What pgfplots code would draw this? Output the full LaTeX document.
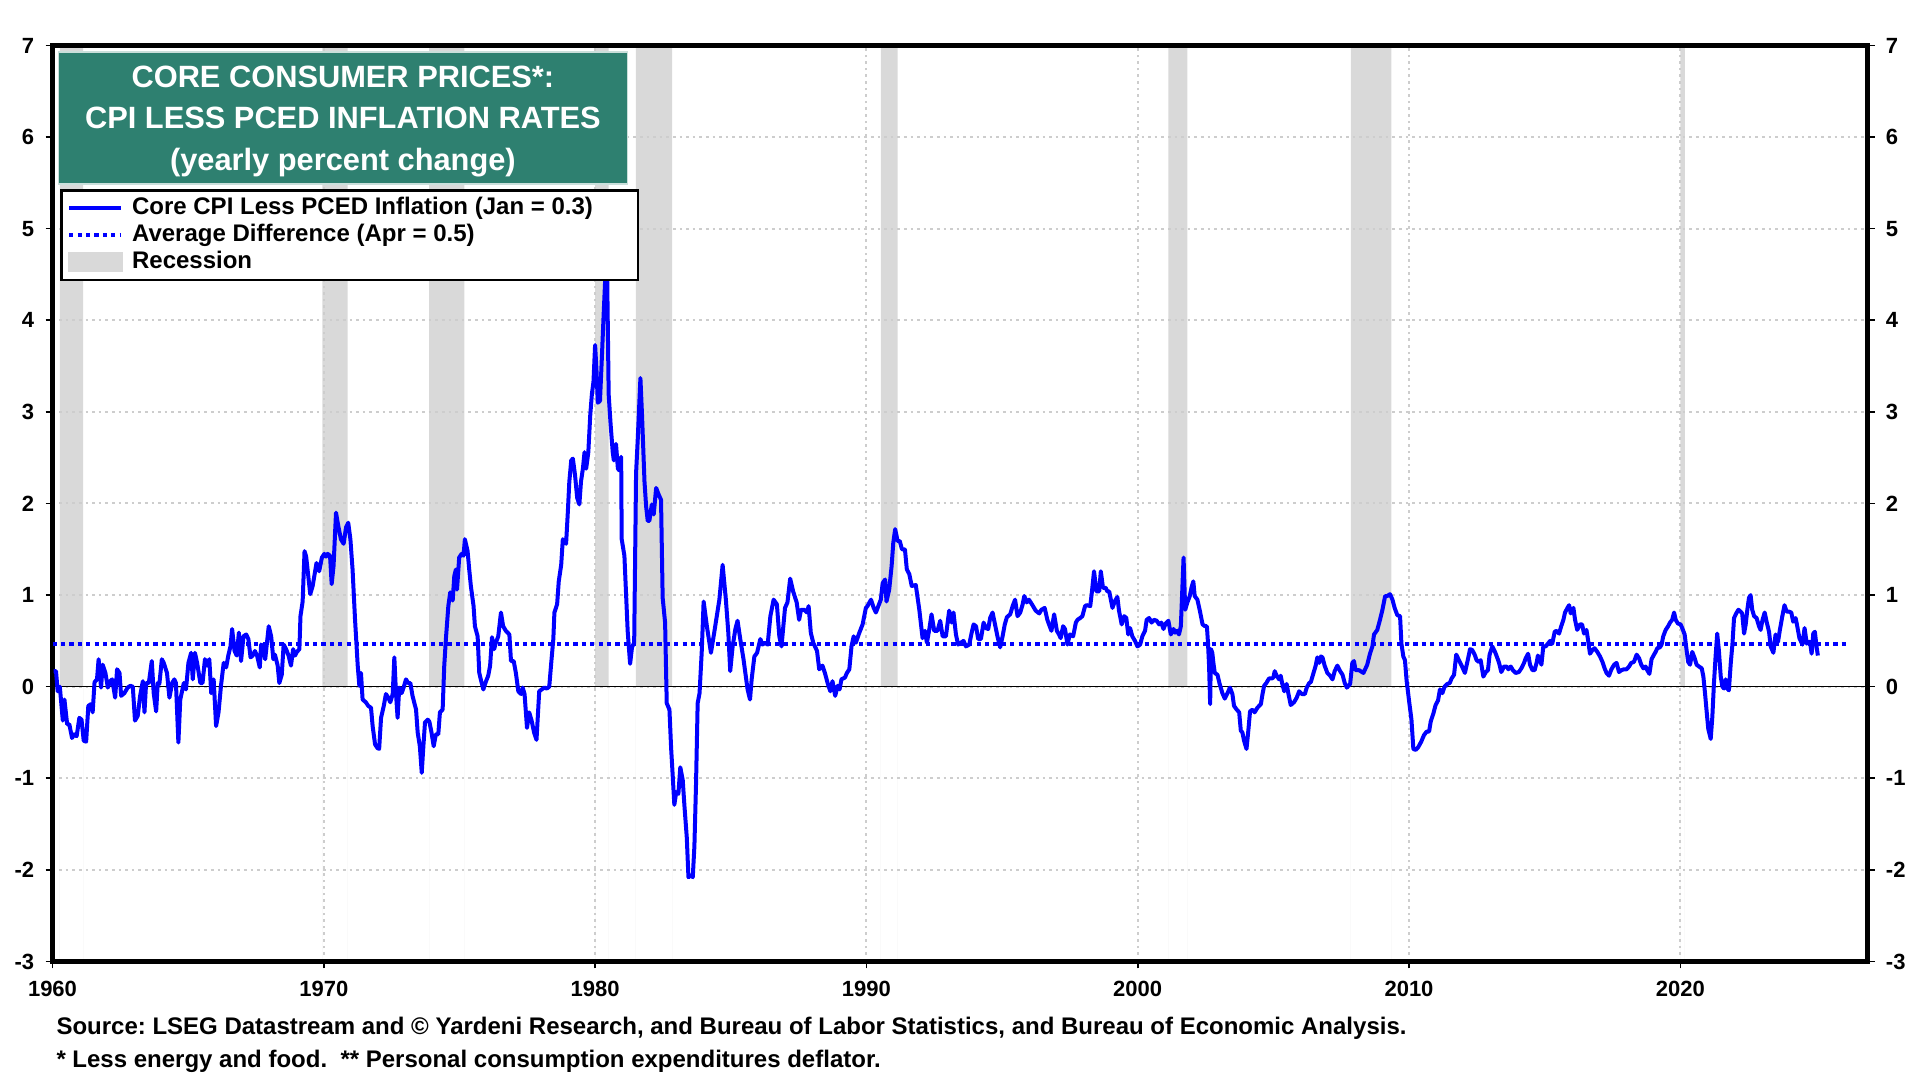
\documentclass[border=0pt]{standalone}
\usepackage{fontspec}
\setmainfont{Liberation Sans}
\usepackage{pgfplots}
\pgfplotsset{compat=1.18}
\definecolor{titleteal}{RGB}{46,128,112}
\definecolor{recgray}{RGB}{217,217,217}
\definecolor{gridgray}{RGB}{205,205,205}
\definecolor{lineblue}{RGB}{0,0,255}
\begin{document}
\begin{tikzpicture}
\begin{axis}[
  name=ax,
  set layers,
  scale only axis,
  width=907.5pt, height=458pt,
  xmin=1960, xmax=2026.9, ymin=-3, ymax=7,
  xtick={1960,1970,1980,1990,2000,2010,2020},
  xticklabels={1960,1970,1980,1990,2000,2010,2020},
  ytick={-3,-2,-1,0,1,2,3,4,5,6,7},
  yticklabels={-3,-2,-1,0,1,2,3,4,5,6,7},
  xtick pos=bottom, ytick pos=left,
  tick align=outside,
  major tick length=3.5pt,
  tick style={black, line width=0.8pt},
  axis line style={black, line width=2.2pt},
  grid=major,
  major grid style={gridgray, line width=1pt, dash pattern=on 1.3pt off 2pt},
  ticklabel style={font=\bfseries\fontsize{11}{13}\selectfont, inner sep=0pt},
  yticklabel style={anchor=east, xshift=-5.5pt},
  xticklabel style={anchor=base, yshift=-14pt},
  legend style={at={(0,1)}, anchor=north west, xshift=3.75pt, yshift=-71.75pt,
    draw=black, line width=1.3pt, fill=white,
    inner xsep=3pt, inner ysep=2pt, row sep=0pt,
    font=\bfseries\fontsize{12}{13.6}\selectfont,
    nodes={inner sep=0pt, text height=10pt, text depth=3.6pt},
    /tikz/every odd column/.append style={column sep=4.4pt}},
  legend cell align=left,
]
% recession bands
\addplot[on layer=axis background, fill=recgray, draw=none, forget plot] coordinates {(1960.27,-3) (1960.27,7) (1961.13,7) (1961.13,-3)} \closedcycle;
\addplot[on layer=axis background, fill=recgray, draw=none, forget plot] coordinates {(1969.95,-3) (1969.95,7) (1970.88,7) (1970.88,-3)} \closedcycle;
\addplot[on layer=axis background, fill=recgray, draw=none, forget plot] coordinates {(1973.88,-3) (1973.88,7) (1975.18,7) (1975.18,-3)} \closedcycle;
\addplot[on layer=axis background, fill=recgray, draw=none, forget plot] coordinates {(1980.0,-3) (1980.0,7) (1980.5,7) (1980.5,-3)} \closedcycle;
\addplot[on layer=axis background, fill=recgray, draw=none, forget plot] coordinates {(1981.5,-3) (1981.5,7) (1982.84,7) (1982.84,-3)} \closedcycle;
\addplot[on layer=axis background, fill=recgray, draw=none, forget plot] coordinates {(1990.53,-3) (1990.53,7) (1991.15,7) (1991.15,-3)} \closedcycle;
\addplot[on layer=axis background, fill=recgray, draw=none, forget plot] coordinates {(2001.13,-3) (2001.13,7) (2001.83,7) (2001.83,-3)} \closedcycle;
\addplot[on layer=axis background, fill=recgray, draw=none, forget plot] coordinates {(2007.86,-3) (2007.86,7) (2009.35,7) (2009.35,-3)} \closedcycle;
\addplot[on layer=axis background, fill=recgray, draw=none, forget plot] coordinates {(2020.0,-3) (2020.0,7) (2020.17,7) (2020.17,-3)} \closedcycle;
% zero line
\addplot[black, line width=0.6pt, forget plot] coordinates {(1960,0) (2026.9,0)};
% average difference
\addplot[lineblue, line width=1.9pt, dash pattern=on 2.1pt off 2.1pt, forget plot] coordinates {(1960,0.47) (2026.15,0.47)};
% core CPI less PCED
\addplot[lineblue, line width=2pt, line join=round, forget plot] table {
1960.04 0.17
1960.13 0.17
1960.19 -0.05
1960.27 0.0
1960.38 -0.37
1960.44 -0.14
1960.54 -0.41
1960.62 -0.41
1960.72 -0.56
1960.80 -0.52
1960.89 -0.54
1960.99 -0.34
1961.07 -0.36
1961.15 -0.59
1961.24 -0.60
1961.32 -0.21
1961.42 -0.19
1961.48 -0.28
1961.55 0.05
1961.64 0.08
1961.70 0.30
1961.79 -0.01
1961.85 0.24
1961.95 0.15
1962.04 -0.01
1962.13 0.06
1962.20 0.08
1962.31 -0.12
1962.38 0.19
1962.47 0.15
1962.53 -0.10
1962.65 -0.07
1962.77 -0.01
1962.87 0.01
1962.96 0.00
1963.04 -0.37
1963.14 -0.32
1963.23 -0.10
1963.33 0.06
1963.39 -0.28
1963.45 0.04
1963.55 0.04
1963.66 0.28
1963.73 -0.07
1963.82 -0.27
1963.88 0.04
1963.94 0.03
1964.03 0.30
1964.10 0.26
1964.22 0.15
1964.31 -0.12
1964.41 0.04
1964.49 0.08
1964.55 0.04
1964.64 -0.61
1964.71 -0.14
1964.84 0.04
1964.92 -0.03
1965.01 0.26
1965.11 0.37
1965.17 0.08
1965.25 0.37
1965.33 0.26
1965.45 0.04
1965.53 0.04
1965.62 0.30
1965.70 0.23
1965.78 0.30
1965.85 -0.07
1965.94 0.08
1966.03 -0.43
1966.12 -0.28
1966.21 0.01
1966.31 0.26
1966.40 0.21
1966.48 0.34
1966.56 0.44
1966.62 0.63
1966.71 0.39
1966.79 0.34
1966.87 0.59
1966.95 0.28
1967.04 0.55
1967.14 0.57
1967.22 0.52
1967.30 0.32
1967.38 0.34
1967.46 0.39
1967.54 0.34
1967.64 0.21
1967.69 0.46
1967.75 0.44
1967.84 0.30
1967.97 0.66
1968.06 0.55
1968.14 0.30
1968.20 0.35
1968.30 0.23
1968.36 0.04
1968.45 0.13
1968.52 0.46
1968.61 0.41
1968.70 0.34
1968.79 0.23
1968.87 0.41
1968.94 0.34
1969.01 0.38
1969.10 0.41
1969.14 0.77
1969.22 0.93
1969.29 1.48
1969.35 1.42
1969.50 1.01
1969.59 1.10
1969.73 1.35
1969.83 1.26
1969.93 1.41
1970.02 1.45
1970.08 1.42
1970.14 1.45
1970.23 1.43
1970.29 1.12
1970.36 1.32
1970.45 1.90
1970.53 1.76
1970.63 1.61
1970.73 1.56
1970.82 1.74
1970.90 1.79
1970.98 1.61
1971.06 1.28
1971.15 0.74
1971.25 0.23
1971.31 0.01
1971.37 0.15
1971.43 -0.14
1971.55 -0.17
1971.64 -0.21
1971.74 -0.23
1971.80 -0.43
1971.89 -0.63
1971.98 -0.67
1972.04 -0.68
1972.11 -0.34
1972.21 -0.21
1972.29 -0.08
1972.38 -0.12
1972.45 -0.17
1972.54 -0.08
1972.60 0.32
1972.66 -0.07
1972.72 -0.34
1972.78 -0.01
1972.87 -0.07
1972.94 -0.01
1973.03 0.08
1973.11 0.04
1973.19 0.04
1973.27 -0.10
1973.40 -0.25
1973.46 -0.50
1973.54 -0.65
1973.61 -0.94
1973.67 -0.65
1973.73 -0.39
1973.83 -0.36
1973.89 -0.38
1973.97 -0.50
1974.05 -0.65
1974.13 -0.52
1974.22 -0.52
1974.28 -0.28
1974.38 -0.25
1974.44 0.23
1974.50 0.52
1974.59 0.88
1974.66 1.03
1974.75 0.94
1974.81 1.21
1974.87 1.28
1974.91 1.06
1974.99 1.41
1975.08 1.45
1975.15 1.43
1975.20 1.61
1975.30 1.48
1975.36 1.28
1975.42 1.10
1975.52 0.88
1975.57 0.66
1975.67 0.55
1975.73 0.15
1975.82 0.04
1975.88 -0.03
1975.98 0.06
1976.06 0.12
1976.13 0.23
1976.20 0.54
1976.28 0.41
1976.34 0.48
1976.43 0.55
1976.53 0.81
1976.61 0.66
1976.71 0.61
1976.84 0.57
1976.90 0.28
1977.00 0.28
1977.08 0.15
1977.17 -0.05
1977.27 -0.08
1977.33 -0.01
1977.40 -0.08
1977.49 -0.45
1977.57 -0.28
1977.66 -0.37
1977.75 -0.50
1977.84 -0.58
1977.94 -0.05
1978.03 -0.03
1978.13 -0.01
1978.22 -0.02
1978.31 0.00
1978.38 0.25
1978.46 0.52
1978.50 0.81
1978.60 0.90
1978.66 1.15
1978.75 1.33
1978.81 1.61
1978.93 1.56
1978.99 1.88
1979.05 2.24
1979.12 2.47
1979.18 2.49
1979.26 2.31
1979.34 2.06
1979.42 1.99
1979.48 2.24
1979.55 2.38
1979.61 2.56
1979.67 2.38
1979.75 2.56
1979.82 2.96
1979.88 3.19
1979.94 3.33
1980.00 3.73
1980.05 3.46
1980.10 3.10
1980.18 3.12
1980.25 3.60
1980.32 4.10
1980.38 4.50
1980.44 4.60
1980.50 3.19
1980.57 2.87
1980.65 2.56
1980.69 2.47
1980.77 2.65
1980.84 2.38
1980.90 2.36
1980.96 2.51
1980.98 1.61
1981.08 1.43
1981.14 1.02
1981.20 0.61
1981.29 0.25
1981.36 0.43
1981.44 0.48
1981.51 2.33
1981.57 2.69
1981.67 3.37
1981.73 2.96
1981.82 2.24
1981.88 1.97
1981.94 1.81
1982.00 1.81
1982.09 1.99
1982.16 1.88
1982.25 2.17
1982.34 2.10
1982.43 2.04
1982.49 0.97
1982.58 0.70
1982.64 -0.18
1982.74 -0.25
1982.80 -0.66
1982.86 -0.97
1982.92 -1.29
1982.99 -1.15
1983.07 -1.17
1983.14 -0.88
1983.23 -1.02
1983.29 -1.29
1983.38 -1.65
1983.44 -2.08
1983.54 -2.06
1983.60 -2.08
1983.66 -1.74
1983.72 -1.06
1983.78 -0.18
1983.85 -0.07
1983.93 0.38
1984.00 0.93
1984.12 0.66
1984.27 0.37
1984.39 0.59
1984.58 0.95
1984.70 1.33
1984.82 0.95
1984.91 0.59
1984.98 0.17
1985.07 0.44
1985.17 0.63
1985.25 0.72
1985.35 0.52
1985.47 0.30
1985.62 -0.03
1985.71 -0.14
1985.77 0.08
1985.87 0.33
1985.97 0.37
1986.09 0.52
1986.17 0.46
1986.26 0.48
1986.36 0.46
1986.46 0.77
1986.58 0.95
1986.70 0.90
1986.79 0.55
1986.87 0.44
1987.00 0.86
1987.09 0.92
1987.19 1.18
1987.30 1.04
1987.43 0.92
1987.52 0.73
1987.59 0.84
1987.71 0.84
1987.81 0.81
1987.87 0.88
1987.95 0.59
1988.04 0.48
1988.18 0.39
1988.26 0.19
1988.38 0.23
1988.47 0.15
1988.57 0.04
1988.67 -0.05
1988.75 0.06
1988.85 -0.10
1988.94 0.01
1989.01 -0.03
1989.08 0.08
1989.21 0.10
1989.28 0.15
1989.37 0.19
1989.45 0.44
1989.53 0.55
1989.61 0.48
1989.74 0.59
1989.86 0.68
1989.98 0.86
1990.04 0.88
1990.17 0.95
1990.27 0.86
1990.35 0.81
1990.44 0.88
1990.53 0.95
1990.60 1.13
1990.69 1.17
1990.74 0.93
1990.84 1.06
1990.93 1.32
1990.99 1.57
1991.06 1.72
1991.15 1.59
1991.23 1.59
1991.31 1.50
1991.42 1.50
1991.49 1.28
1991.58 1.23
1991.67 1.10
1991.82 1.11
1991.95 0.84
1992.07 0.53
1992.16 0.61
1992.23 0.48
1992.32 0.63
1992.40 0.79
1992.50 0.61
1992.62 0.61
1992.72 0.72
1992.81 0.55
1992.93 0.55
1993.05 0.83
1993.14 0.70
1993.21 0.81
1993.30 0.57
1993.38 0.46
1993.48 0.48
1993.58 0.50
1993.67 0.44
1993.79 0.46
1993.88 0.59
1993.95 0.68
1994.04 0.66
1994.12 0.52
1994.22 0.52
1994.32 0.70
1994.40 0.64
1994.49 0.63
1994.56 0.75
1994.65 0.81
1994.74 0.68
1994.83 0.55
1994.93 0.43
1995.02 0.55
1995.10 0.68
1995.18 0.76
1995.30 0.79
1995.39 0.88
1995.48 0.95
1995.57 0.77
1995.67 0.81
1995.76 0.90
1995.82 0.99
1995.91 0.92
1995.99 0.95
1996.10 0.90
1996.24 0.83
1996.37 0.80
1996.45 0.84
1996.57 0.86
1996.67 0.73
1996.73 0.68
1996.82 0.61
1996.92 0.79
1997.02 0.61
1997.10 0.57
1997.16 0.53
1997.25 0.66
1997.32 0.63
1997.41 0.46
1997.50 0.57
1997.62 0.55
1997.72 0.70
1997.78 0.73
1997.88 0.75
1997.96 0.77
1998.06 0.88
1998.12 0.89
1998.25 0.88
1998.31 1.03
1998.39 1.26
1998.48 1.04
1998.58 1.04
1998.64 1.26
1998.72 1.08
1998.82 1.08
1998.88 1.04
1998.95 1.04
1999.01 0.95
1999.07 0.86
1999.15 0.93
1999.25 0.98
1999.31 0.83
1999.41 0.68
1999.50 0.77
1999.58 0.75
1999.65 0.57
1999.72 0.64
1999.80 0.55
1999.90 0.50
1999.99 0.44
2000.09 0.46
2000.17 0.55
2000.27 0.61
2000.33 0.73
2000.42 0.75
2000.51 0.70
2000.60 0.73
2000.70 0.72
2000.79 0.68
2000.87 0.70
2000.95 0.63
2001.03 0.69
2001.13 0.72
2001.22 0.57
2001.32 0.63
2001.38 0.59
2001.46 0.61
2001.52 0.57
2001.59 0.66
2001.69 1.41
2001.75 0.84
2001.83 0.92
2001.92 0.99
2001.98 1.08
2002.05 1.15
2002.10 0.99
2002.20 0.95
2002.29 0.83
2002.39 0.68
2002.48 0.66
2002.55 0.66
2002.59 0.48
2002.63 0.23
2002.67 -0.19
2002.70 0.41
2002.75 0.37
2002.79 0.26
2002.84 0.15
2002.94 0.13
2003.02 0.03
2003.12 -0.07
2003.21 -0.13
2003.31 -0.07
2003.40 -0.01
2003.49 -0.08
2003.55 -0.21
2003.65 -0.25
2003.74 -0.28
2003.80 -0.48
2003.86 -0.50
2003.92 -0.59
2004.01 -0.68
2004.08 -0.47
2004.14 -0.27
2004.23 -0.25
2004.31 -0.28
2004.41 -0.23
2004.54 -0.19
2004.60 -0.08
2004.66 0.01
2004.74 0.04
2004.84 0.09
2004.94 0.09
2005.00 0.10
2005.05 0.17
2005.12 0.12
2005.21 0.08
2005.27 0.12
2005.33 0.03
2005.40 -0.05
2005.49 0.03
2005.55 -0.07
2005.64 -0.20
2005.76 -0.17
2005.86 -0.12
2005.95 -0.05
2006.05 -0.08
2006.16 -0.08
2006.23 -0.01
2006.32 0.04
2006.38 0.05
2006.48 0.15
2006.56 0.23
2006.62 0.32
2006.69 0.26
2006.75 0.33
2006.81 0.32
2006.89 0.23
2006.99 0.15
2007.09 0.12
2007.18 0.08
2007.26 0.17
2007.36 0.23
2007.46 0.17
2007.55 0.13
2007.63 0.04
2007.71 -0.01
2007.83 0.03
2007.91 0.26
2007.97 0.28
2008.03 0.18
2008.16 0.18
2008.32 0.15
2008.46 0.24
2008.56 0.36
2008.65 0.44
2008.71 0.57
2008.83 0.62
2008.93 0.73
2009.02 0.84
2009.12 0.99
2009.20 0.99
2009.30 1.01
2009.39 0.95
2009.47 0.86
2009.57 0.78
2009.67 0.77
2009.72 0.47
2009.79 0.33
2009.85 0.29
2009.91 0.07
2010.00 -0.15
2010.09 -0.36
2010.16 -0.68
2010.25 -0.69
2010.34 -0.66
2010.45 -0.60
2010.55 -0.53
2010.65 -0.49
2010.74 -0.49
2010.80 -0.38
2010.90 -0.29
2010.98 -0.20
2011.07 -0.15
2011.14 -0.03
2011.23 -0.07
2011.31 0.00
2011.41 0.03
2011.50 0.04
2011.57 0.09
2011.66 0.13
2011.74 0.35
2011.84 0.29
2011.94 0.23
2012.06 0.15
2012.15 0.27
2012.25 0.41
2012.33 0.40
2012.42 0.35
2012.49 0.29
2012.58 0.27
2012.64 0.29
2012.74 0.11
2012.83 0.16
2012.91 0.18
2012.97 0.35
2013.07 0.44
2013.17 0.38
2013.26 0.31
2013.32 0.26
2013.40 0.16
2013.50 0.22
2013.60 0.22
2013.66 0.19
2013.75 0.22
2013.83 0.18
2013.93 0.15
2014.05 0.16
2014.14 0.20
2014.24 0.26
2014.30 0.31
2014.39 0.36
2014.46 0.24
2014.55 0.18
2014.63 0.18
2014.71 0.27
2014.75 0.34
2014.83 0.29
2014.88 0.24
2014.95 0.44
2015.04 0.44
2015.12 0.47
2015.20 0.50
2015.28 0.47
2015.37 0.60
2015.44 0.61
2015.53 0.58
2015.61 0.66
2015.69 0.73
2015.75 0.81
2015.84 0.86
2015.90 0.89
2015.96 0.80
2016.06 0.86
2016.12 0.73
2016.20 0.62
2016.30 0.68
2016.38 0.68
2016.45 0.58
2016.54 0.62
2016.60 0.51
2016.67 0.36
2016.76 0.40
2016.84 0.42
2016.94 0.38
2017.04 0.33
2017.13 0.27
2017.21 0.20
2017.28 0.15
2017.37 0.12
2017.46 0.19
2017.56 0.24
2017.65 0.26
2017.74 0.16
2017.83 0.18
2017.92 0.19
2018.02 0.19
2018.11 0.22
2018.19 0.26
2018.29 0.27
2018.39 0.35
2018.48 0.31
2018.56 0.24
2018.64 0.20
2018.72 0.22
2018.78 0.18
2018.86 0.14
2018.94 0.30
2019.03 0.35
2019.09 0.38
2019.15 0.42
2019.25 0.43
2019.31 0.46
2019.37 0.55
2019.46 0.62
2019.55 0.66
2019.62 0.70
2019.70 0.73
2019.77 0.81
2019.83 0.73
2019.91 0.69
2020.01 0.68
2020.07 0.64
2020.16 0.57
2020.23 0.40
2020.29 0.27
2020.36 0.24
2020.44 0.38
2020.53 0.31
2020.60 0.24
2020.69 0.22
2020.79 0.20
2020.85 0.11
2020.91 -0.07
2020.97 -0.27
2021.03 -0.46
2021.12 -0.57
2021.18 -0.33
2021.24 0.04
2021.30 0.33
2021.36 0.58
2021.42 0.40
2021.49 0.11
2021.55 0.00
2021.61 -0.02
2021.67 0.08
2021.73 -0.02
2021.79 -0.04
2021.86 0.26
2021.92 0.46
2021.98 0.75
2022.06 0.80
2022.14 0.84
2022.22 0.82
2022.28 0.80
2022.35 0.58
2022.41 0.68
2022.47 0.84
2022.53 0.97
2022.59 1.00
2022.65 0.84
2022.72 0.77
2022.81 0.75
2022.90 0.66
2022.96 0.62
2023.03 0.73
2023.11 0.81
2023.18 0.71
2023.27 0.60
2023.33 0.44
2023.43 0.37
2023.51 0.57
2023.60 0.49
2023.67 0.62
2023.76 0.77
2023.84 0.89
2023.92 0.82
2024.00 0.82
2024.09 0.81
2024.16 0.71
2024.25 0.75
2024.31 0.66
2024.39 0.53
2024.50 0.46
2024.58 0.64
2024.66 0.47
2024.72 0.49
2024.78 0.49
2024.84 0.36
2024.90 0.58
2024.96 0.60
2025.02 0.44
2025.07 0.34
};
% legend
\addlegendimage{legend image code/.code={\draw[lineblue, line width=2pt] (0pt,0pt) -- (26pt,0pt);}}
\addlegendentry{\makebox[250pt][l]{Core CPI Less PCED Inflation (Jan = 0.3)}}
\addlegendimage{legend image code/.code={\draw[lineblue, line width=1.9pt, dash pattern=on 2.1pt off 2.1pt] (0pt,0pt) -- (26pt,0pt);}}
\addlegendentry{Average Difference (Apr = 0.5)}
\addlegendimage{legend image code/.code={\fill[recgray] (0pt,-4.4pt) rectangle (26pt,4.4pt);}}
\addlegendentry{Recession}
% title box
\node[fill=titleteal, draw=white!75!titleteal, line width=0.6pt, text=white, anchor=north west,
  minimum width=284.7pt, minimum height=66pt, align=center, inner sep=0pt,
  font=\bfseries\fontsize{15.4}{20.8}\selectfont]
  at ([xshift=2.55pt,yshift=-2.95pt]rel axis cs:0,1)
  {\rule{0pt}{14.2pt}CORE CONSUMER PRICES*:\\CPI LESS PCED INFLATION RATES\\(yearly percent change)};
\end{axis}
\begin{axis}[
  scale only axis,
  width=907.5pt, height=458pt,
  xmin=1960, xmax=2026.9, ymin=-3, ymax=7,
  axis x line=none,
  axis y line*=right,
  ytick={-3,-2,-1,0,1,2,3,4,5,6,7},
  yticklabels={-3,-2,-1,0,1,2,3,4,5,6,7},
  tick align=outside,
  major tick length=3.5pt,
  tick style={black, line width=0.8pt},
  axis line style={black, line width=2.2pt},
  ticklabel style={font=\bfseries\fontsize{11}{13}\selectfont, inner sep=0pt},
  yticklabel style={anchor=west, xshift=5.5pt},
]
\addplot[draw=none] coordinates {(1960,0) (2026,1)};
\end{axis}
\node[anchor=base west, inner sep=0pt, font=\bfseries\fontsize{12}{14}\selectfont]
  at ([xshift=1.8pt,yshift=-36.3pt]ax.south west)
  {\frenchspacing Source: LSEG Datastream and \textcopyright{} Yardeni Research, and Bureau of Labor Statistics, and Bureau of Economic Analysis.};
\node[anchor=base west, inner sep=0pt, font=\bfseries\fontsize{12}{14}\selectfont]
  at ([xshift=1.8pt,yshift=-53.1pt]ax.south west)
  {\frenchspacing * Less energy and food.\ \ ** Personal consumption expenditures deflator.};
\pgfresetboundingbox
\path[use as bounding box] (-26.25pt,-59.25pt) rectangle (933.75pt,480.75pt);
\end{tikzpicture}
\end{document}
